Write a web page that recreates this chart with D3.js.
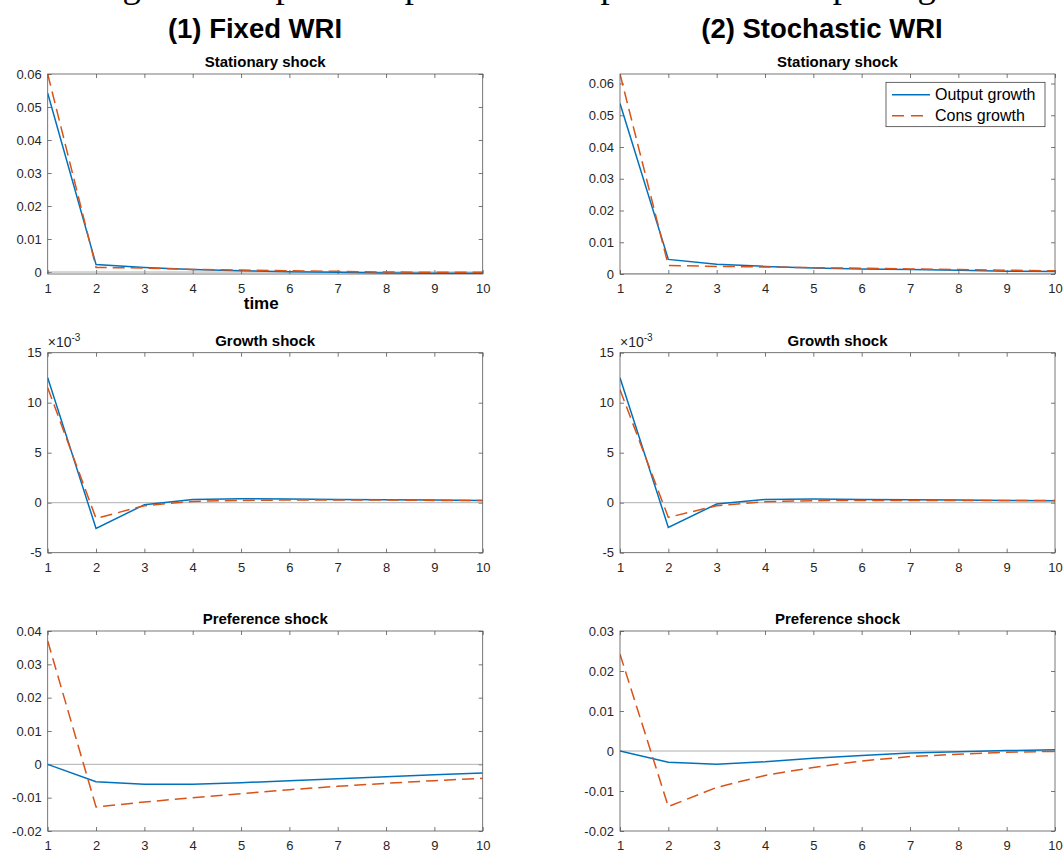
<!DOCTYPE html>
<html>
<head>
<meta charset="utf-8">
<script src="https://cdn.jsdelivr.net/npm/d3@7"></script>
<style>
  body { margin: 0; background: #fff; }
  svg { display: block; }
</style>
</head>
<body>
<div id="chart"></div>
<script>
var width = 1063;
var height = 852;

// horizon
var periods = [1, 2, 3, 4, 5, 6, 7, 8, 9, 10];

// Stationary shock
var statFixedOutput = [0.0542, 0.0023, 0.0014, 0.0008, 0.0004, 0.0001, -0.0001, -0.0003, -0.0004, -0.0004];
var statFixedCons   = [0.0600, 0.0014, 0.0012, 0.0008, 0.0006, 0.0004, 0.0002, 0.0000, -0.0001, -0.0001];
var statStochOutput = [0.0537, 0.0046, 0.0031, 0.0024, 0.0019, 0.0016, 0.0014, 0.0012, 0.0009, 0.0008];
var statStochCons   = [0.0630, 0.0027, 0.0024, 0.0022, 0.0020, 0.0018, 0.0016, 0.0014, 0.0012, 0.0010];

// Growth shock (x 10^-3)
var growthFixedOutput = [12.5, -2.57, -0.2, 0.33, 0.4, 0.37, 0.33, 0.3, 0.27, 0.23];
var growthFixedCons   = [11.5, -1.57, -0.3, 0.13, 0.23, 0.27, 0.27, 0.27, 0.23, 0.23];
var growthStochOutput = [12.5, -2.47, -0.13, 0.33, 0.37, 0.33, 0.3, 0.27, 0.23, 0.2];
var growthStochCons   = [11.3, -1.47, -0.3, 0.1, 0.2, 0.23, 0.23, 0.23, 0.23, 0.23];

// Preference shock
var prefFixedOutput = [0, -0.0052, -0.0060, -0.0060, -0.0055, -0.0049, -0.0043, -0.0037, -0.0031, -0.0026];
var prefFixedCons   = [0.0370, -0.0128, -0.0113, -0.0100, -0.0088, -0.0076, -0.0066, -0.0057, -0.0049, -0.0042];
var prefStochOutput = [0, -0.0028, -0.0033, -0.0027, -0.0018, -0.0011, -0.0005, -0.0002, 0.0001, 0.0003];
var prefStochCons   = [0.0242, -0.0139, -0.0091, -0.0061, -0.0041, -0.0025, -0.0014, -0.0008, -0.0003, -0.0001];

// tick labels
var statTicks = [0, 0.01, 0.02, 0.03, 0.04, 0.05, 0.06];
var growthTicks = [-5, 0, 5, 10, 15];
var prefFixedTicks = [-0.02, -0.01, 0, 0.01, 0.02, 0.03, 0.04];
var prefStochTicks = [-0.02, -0.01, 0, 0.01, 0.02, 0.03];

var columnTitles = ['(1) Fixed WRI', '(2) Stochastic WRI'];
var seriesNames = ['Output growth', 'Cons growth'];
var caption = 'Figure 6: Impulse responses of output and consumption growth';

var blue = '#0072BD';
var orange = '#D95319';
var tickColor = '#262626';

var colX = [47.7, 620];
var rowY = [74, 352.7, 631];
var axW = 435;
var axH = 200;

var panels = [
    { col: 0, row: 0, title: 'Stationary shock', output: statFixedOutput, cons: statFixedCons, lo: -0.0006, hi: 0.06, ticks: statTicks, xlabel: 'time' },
    { col: 1, row: 0, title: 'Stationary shock', output: statStochOutput, cons: statStochCons, lo: 0, hi: 0.063, ticks: statTicks, legend: true },
    { col: 0, row: 1, title: 'Growth shock', output: growthFixedOutput, cons: growthFixedCons, lo: -5, hi: 15, ticks: growthTicks, expo: true },
    { col: 1, row: 1, title: 'Growth shock', output: growthStochOutput, cons: growthStochCons, lo: -5, hi: 15, ticks: growthTicks, expo: true },
    { col: 0, row: 2, title: 'Preference shock', output: prefFixedOutput, cons: prefFixedCons, lo: -0.02, hi: 0.04, ticks: prefFixedTicks },
    { col: 1, row: 2, title: 'Preference shock', output: prefStochOutput, cons: prefStochCons, lo: -0.02, hi: 0.03, ticks: prefStochTicks }
];

var svg = d3.select('#chart')
    .append('svg')
    .attr('width', width)
    .attr('height', height)
    .style('font-family', '"Liberation Sans", Arial, Helvetica, sans-serif');

// caption of the page, cut off at the top edge (only descenders show)
svg.append('text')
    .attr('x', 92)
    .attr('y', -3)
    .style('font-family', '"Liberation Serif", "Times New Roman", serif')
    .style('font-size', '36.7px')
    .attr('fill', '#000')
    .text(caption);

// column headings
svg.selectAll('.coltitle')
    .data(columnTitles)
    .enter()
    .append('text')
    .attr('class', 'coltitle')
    .attr('x', (d, i) => i === 0 ? 255 : 822)
    .attr('y', 38)
    .attr('text-anchor', 'middle')
    .style('font-size', '27.5px')
    .style('font-weight', 'bold')
    .attr('fill', '#000')
    .text(d => d);

function fmt(d) {
    if (d === 0) return '0';
    var s = Number.isInteger(d) ? String(d) : d3.format('.2f')(d);
    return s.replace('\u2212', '-');
}

panels.forEach(function (p, k) {
    var x0 = colX[p.col];
    var y0 = rowY[p.row];
    var g = svg.append('g').attr('transform', 'translate(' + x0 + ',' + y0 + ')');

    var x = d3.scaleLinear().domain([1, 10]).range([0, axW]);
    var y = d3.scaleLinear().domain([p.lo, p.hi]).range([axH, 0]);

    g.append('clipPath').attr('id', 'clip' + k)
        .append('rect').attr('width', axW).attr('height', axH);

    // ticks inward on all four sides
    var bottom = g.append('g').attr('transform', 'translate(0,' + axH + ')')
        .call(d3.axisBottom(x).tickValues(periods).tickSize(-4).tickPadding(10).tickFormat(d3.format('d')));
    var top = g.append('g')
        .call(d3.axisTop(x).tickValues(periods).tickSize(-4).tickFormat(''));
    var left = g.append('g')
        .call(d3.axisLeft(y).tickValues(p.ticks).tickSize(-4).tickPadding(6).tickFormat(fmt));
    var right = g.append('g').attr('transform', 'translate(' + axW + ',0)')
        .call(d3.axisRight(y).tickValues(p.ticks).tickSize(-4).tickFormat(''));

    [bottom, top, left, right].forEach(function (a) {
        a.select('.domain').remove();
        a.selectAll('line').attr('stroke', '#555').attr('stroke-width', 0.8);
        a.selectAll('text').attr('fill', tickColor).style('font-size', '13px')
            .style('font-family', '"Liberation Sans", Arial, Helvetica, sans-serif');
    });

    var plot = g.append('g').attr('clip-path', 'url(#clip' + k + ')');

    // zero reference line
    plot.append('line')
        .attr('x1', 0).attr('x2', axW)
        .attr('y1', y(0)).attr('y2', y(0))
        .attr('stroke', '#9a9a9a')
        .attr('stroke-width', 0.8);

    var line = d3.line()
        .x((d, i) => x(periods[i]))
        .y(d => y(d));

    plot.append('path')
        .datum(p.output)
        .attr('d', line)
        .attr('fill', 'none')
        .attr('stroke', blue)
        .attr('stroke-width', 1.5);

    plot.append('path')
        .datum(p.cons)
        .attr('d', line)
        .attr('fill', 'none')
        .attr('stroke', orange)
        .attr('stroke-width', 1.5)
        .attr('stroke-dasharray', '12,6');

    // box
    g.append('rect')
        .attr('width', axW).attr('height', axH)
        .attr('fill', 'none')
        .attr('stroke', '#555')
        .attr('stroke-width', 0.8);

    g.append('text')
        .attr('x', axW / 2)
        .attr('y', -7)
        .attr('text-anchor', 'middle')
        .style('font-size', '15px')
        .style('font-weight', 'bold')
        .attr('fill', '#000')
        .text(p.title);

    if (p.xlabel) {
        g.append('text')
            .attr('x', axW / 2 - 4)
            .attr('y', axH + 35)
            .attr('text-anchor', 'middle')
            .style('font-size', '17px')
            .style('font-weight', 'bold')
            .attr('fill', '#000')
            .text(p.xlabel);
    }

    if (p.expo) {
        var t = g.append('text')
            .attr('x', 0)
            .attr('y', -5.5)
            .attr('fill', tickColor)
            .style('font-size', '14px');
        t.append('tspan').text('\u00d710');
        t.append('tspan').attr('dy', -6).style('font-size', '10px').text('-3');
    }

    if (p.legend) {
        var lg = g.append('g').attr('transform', 'translate(' + (886 - x0) + ',' + (82.3 - y0) + ')');
        lg.append('rect')
            .attr('width', 159).attr('height', 44.4)
            .attr('fill', '#fff')
            .attr('stroke', '#262626')
            .attr('stroke-width', 0.7);
        seriesNames.forEach(function (name, i) {
            var ly = 12.4 + i * 21;
            lg.append('line')
                .attr('x1', 6).attr('x2', 44)
                .attr('y1', ly).attr('y2', ly)
                .attr('stroke', i === 0 ? blue : orange)
                .attr('stroke-width', 1.5)
                .attr('stroke-dasharray', i === 0 ? null : '12,7');
            lg.append('text')
                .attr('x', 49)
                .attr('y', ly + 5.5)
                .attr('fill', '#000')
                .style('font-size', '16px')
                .text(name);
        });
    }
});
</script>
</body>
</html>
